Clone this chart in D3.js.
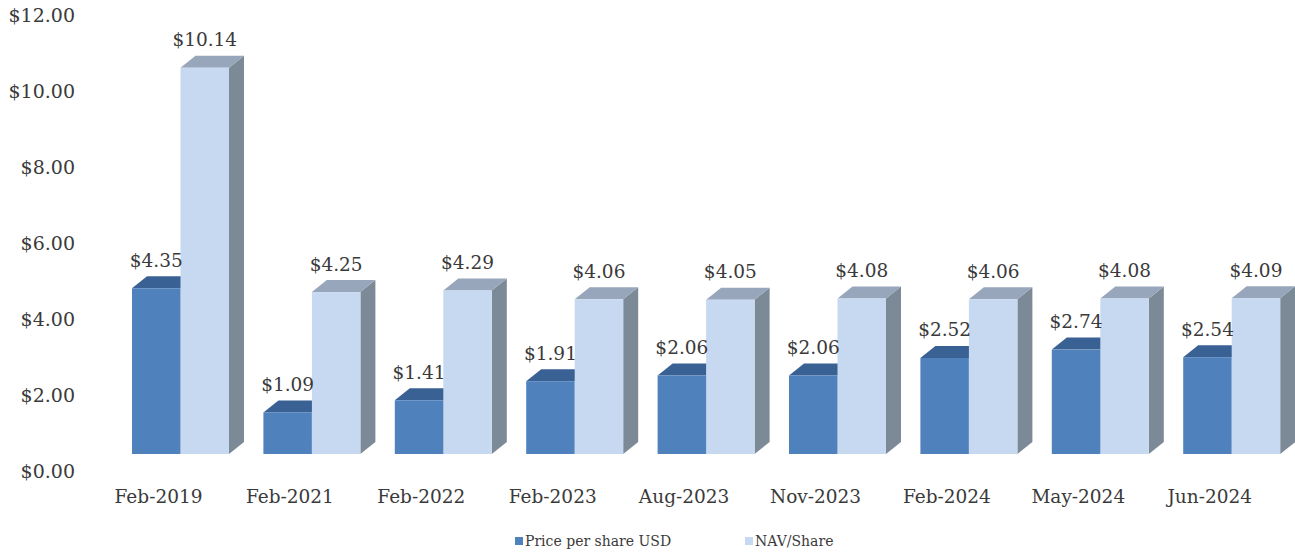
<!DOCTYPE html>
<html><head><meta charset="utf-8">
<script src="https://cdn.jsdelivr.net/npm/d3@7"></script>
<style>body{margin:0;background:#fff;} svg{display:block;}</style>
</head><body>
<svg id="c" width="1295" height="553"></svg>
<script>
const categories = ["Feb-2019","Feb-2021","Feb-2022","Feb-2023","Aug-2023","Nov-2023","Feb-2024","May-2024","Jun-2024"];
const priceValues = [4.35,1.09,1.41,1.91,2.06,2.06,2.52,2.74,2.54];
const navValues = [10.14,4.25,4.29,4.06,4.05,4.08,4.06,4.08,4.09];
const seriesNames = ["Price per share USD","NAV/Share"];
const tickValues = [0,2,4,6,8,10,12];

const svg = d3.select("#c");
const font = "'DejaVu Serif', Georgia, serif";
const textColor = "#3a3a3a";

const x = d3.scaleBand().domain(categories).range([114, 1296.6]);
const xs = d3.scaleBand().domain(seriesNames).range([18, 115]);
const y = d3.scaleLinear().domain([0, 12]).range([454, 454 - 12*38.1]);
const yLab = d3.scaleLinear().domain([0, 12]).range([471, 15]);
const dx = 15, dy = 12;

const styles = [
  {front:"#4f81bd", top:"#3a6193", side:"#345781"},
  {front:"#c6d9f1", top:"#97a6ba", side:"#7c8996"}
];

// y tick labels
svg.append("g").selectAll("text").data(tickValues).join("text")
  .attr("x", 75).attr("y", d => yLab(d)).attr("dy","0.35em")
  .attr("text-anchor","end").attr("font-family",font).attr("font-size",19)
  .attr("fill",textColor).text(d => "$" + d.toFixed(2));

const data = categories.map((c,i) => ({cat:c, vals:[priceValues[i], navValues[i]]}));
const groups = svg.append("g").selectAll("g").data(data).join("g");
groups.each(function(d){
  const g = d3.select(this);
  d.vals.forEach((v, s) => {
    const x0 = x(d.cat) + xs(seriesNames[s]);
    const w = xs.bandwidth();
    const yt = y(v), yb = y(0);
    const st = styles[s];
    g.append("path").attr("d", `M${x0+w},${yt}L${x0+w+dx},${yt-dy}L${x0+w+dx},${yb-dy}L${x0+w},${yb}Z`).attr("fill", st.side);
    g.append("path").attr("d", `M${x0},${yt}L${x0+w},${yt}L${x0+w+dx},${yt-dy}L${x0+dx},${yt-dy}Z`).attr("fill", st.top);
    g.append("rect").attr("x", x0).attr("y", yt).attr("width", w).attr("height", yb-yt).attr("fill", st.front);
  });
  d.vals.forEach((v, s) => {
    const x0 = x(d.cat) + xs(seriesNames[s]);
    g.append("text").attr("x", x0 + xs.bandwidth()/2).attr("y", y(v) - 28).attr("dy","0.35em")
      .attr("text-anchor","middle").attr("font-family",font).attr("font-size",18.5)
      .attr("fill",textColor).text("$" + v.toFixed(2));
  });
  g.append("text").attr("x", x(d.cat) + xs(seriesNames[0]) + xs.bandwidth() - 22).attr("y", 497).attr("dy","0.35em")
    .attr("text-anchor","middle").attr("font-family",font).attr("font-size",18.5)
    .attr("fill",textColor).text(d.cat);
});

// legend
const legX = [515, 745];
seriesNames.forEach((n, i) => {
  svg.append("rect").attr("x", legX[i]).attr("y", 537).attr("width", 8).attr("height", 8).attr("fill", styles[i].front);
  svg.append("text").attr("x", legX[i] + 10).attr("y", 541).attr("dy","0.35em")
    .attr("font-family",font).attr("font-size",14).attr("fill",textColor).text(n);
});
</script>
</body></html>
